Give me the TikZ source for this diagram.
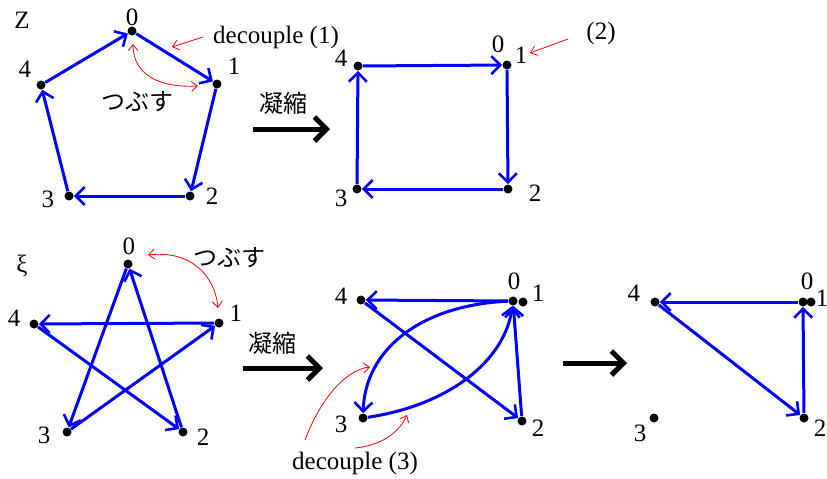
\documentclass[tikz,border=0pt]{standalone}
\usepackage{fontspec}
\setmainfont{Liberation Serif}
\newfontfamily\jpfont{Noto Sans CJK JP}
\usetikzlibrary{arrows.meta}

\tikzset{
  vtx/.style={circle,fill=black,inner sep=0pt,minimum size=4.5pt},
  lbl/.style={inner sep=0pt,font=\fontsize{12.5}{14}\selectfont},
  jp/.style={inner sep=0pt,font=\jpfont\fontsize{12}{13}\selectfont},
  edge/.style={blue,line width=1.5pt,-{Straight Barb[length=4.5pt,width=9pt,line width=1.3pt]}},
  note/.style={red,line width=0.4pt,-{Straight Barb[length=3pt,width=5pt]}},
  notes/.style={red,line width=0.4pt,{Straight Barb[length=3pt,width=5pt]}-{Straight Barb[length=3pt,width=5pt]}},
  bigarr/.style={black,line width=2.5pt,-{Straight Barb[length=6pt,width=12pt,line width=2.5pt]}}
}

\begin{document}
\begin{tikzpicture}[x=0.5pt,y=-0.5pt]
  \useasboundingbox (0,0) rectangle (827,478);

  % Z: 五角形
  \node[lbl] (zname) at (22,20) {Z};
  \foreach \n/\x/\y in {0/132/31,1/217/84,2/190/196,3/69/196,4/41/85}
    \node[vtx] (z\n) at (\x,\y) {};
  \foreach \n/\x/\y in {0/132/17,1/234/66,2/212/196,3/48/199,4/25/69}
    \node[lbl] (zl\n) at (\x,\y) {\n};
  \foreach \a/\b in {4/0,0/1,1/2,2/3,3/4}
    \draw[edge] (z\a) -- (z\b);

  \node[lbl] (dc1) at (276,37) {decouple (1)};
  \coordinate (dc1s) at (203,37);
  \coordinate (dc1e) at (172,47);
  \draw[note] (dc1s) -- (dc1e);
  \node[jp] (tz) at (138,102) {つぶす};
  \coordinate (tza) at (133,44);
  \coordinate (tzb) at (198,86);
  \draw[notes] (tza) .. controls (133,75) and (160,88) .. (tzb);

  \node[jp] (gz) at (283,103) {凝縮};
  \coordinate (gza) at (253,129);
  \coordinate (gzb) at (330,129);
  \draw[bigarr] (gza) -- (gzb);

  % 凝縮後の四角形
  \foreach \n/\x/\y in {4/358/66,1/507/65,2/508/189,3/357/189}
    \node[vtx] (q\n) at (\x,\y) {};
  \foreach \n/\x/\y in {0/498/44,1/521/55,2/535/193,3/341/198,4/341/58}
    \node[lbl] (ql\n) at (\x,\y) {\n};
  \foreach \a/\b in {4/1,1/2,2/3,3/4}
    \draw[edge] (q\a) -- (q\b);
  \node[lbl] (dc2) at (601,33) {(2)};
  \coordinate (dc2s) at (568,39);
  \coordinate (dc2e) at (530,53);
  \draw[note] (dc2s) -- (dc2e);

  % xi: 星形
  \node[lbl] (xname) at (22,266) {ξ};
  \foreach \n/\x/\y in {0/128/264,1/219/323,2/183/432,3/67/432,4/34/324}
    \node[vtx] (s\n) at (\x,\y) {};
  \foreach \n/\x/\y in {0/129/246,1/236/313,2/203/437,3/44/435,4/14/318}
    \node[lbl] (sl\n) at (\x,\y) {\n};
  \foreach \a/\b in {0/3,3/1,1/4,4/2,2/0}
    \draw[edge] (s\a) -- (s\b);

  \node[jp] (ts) at (229,258) {つぶす};
  \coordinate (tsa) at (148,255);
  \coordinate (tsb) at (218,308);
  \draw[notes] (tsa) .. controls (190,250) and (215,275) .. (tsb);

  \node[jp] (gs) at (273,343) {凝縮};
  \coordinate (gsa) at (243,368);
  \coordinate (gsb) at (323,368);
  \draw[bigarr] (gsa) -- (gsb);

  % 凝縮後
  \foreach \n/\x/\y in {0/513/301,1/523/302,2/522/421,3/363/418,4/361/300}
    \node[vtx] (m\n) at (\x,\y) {};
  \foreach \n/\x/\y in {0/514/281,1/538/293,2/538/428,3/341/424,4/341/296}
    \node[lbl] (ml\n) at (\x,\y) {\n};
  \foreach \a/\b in {0/4,4/2,2/0}
    \draw[edge] (m\a) -- (m\b);
  \draw[edge] (m0) .. controls (420,305) and (365,350) .. (m3);
  \draw[edge] (m3) .. controls (450,405) and (505,360) .. (m0);

  \node[lbl] (dc3) at (355,463) {decouple (3)};
  \coordinate (dc3a) at (305,440);
  \coordinate (dc3b) at (370,367);
  \coordinate (dc3c) at (355,448);
  \coordinate (dc3d) at (407,415);
  \draw[note] (dc3a) .. controls (320,400) and (345,370) .. (dc3b);
  \draw[note] (dc3c) .. controls (385,445) and (400,430) .. (dc3d);

  \coordinate (ra) at (563,363);
  \coordinate (rb) at (627,363);
  \draw[bigarr] (ra) -- (rb);

  % 三角形
  \foreach \n/\x/\y in {0/803/302,1/811/302,2/804/418,3/654/418,4/655/302}
    \node[vtx] (t\n) at (\x,\y) {};
  \foreach \n/\x/\y in {0/807/281,1/822/298,2/820/428,3/640/433,4/634/293}
    \node[lbl] (tl\n) at (\x,\y) {\n};
  \foreach \a/\b in {0/4,4/2,2/0}
    \draw[edge] (t\a) -- (t\b);
\end{tikzpicture}
\end{document}
